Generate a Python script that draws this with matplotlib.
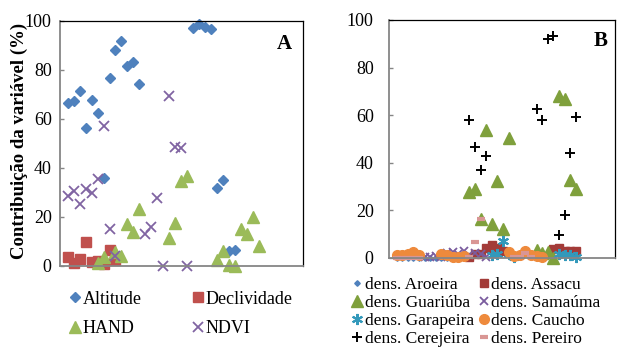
import numpy as np
import matplotlib
matplotlib.use("Agg")
import matplotlib.pyplot as plt

plt.rcParams['font.family'] = ['Liberation Serif', 'DejaVu Serif']

W, H = 623, 347

# ---- Panel A data (x = position index along the unlabelled x axis) ----
alt_x = [0, 1, 2, 3, 4, 5, 6, 7, 8, 9, 10, 11, 12, 21, 22, 23, 24, 25, 26, 27, 28]
alt_y = [66.5, 67.2, 71.4, 56.3, 67.6, 62.4, 35.9, 76.5, 87.9, 91.6, 81.6, 83.0,
         74.0, 97.0, 98.6, 97.6, 96.5, 31.6, 35.0, 5.8, 6.3]

decl_x = [0, 1, 2, 3, 4, 5, 6, 7, 8]
decl_y = [3.6, 0.9, 2.8, 9.8, 1.6, 1.8, 0.8, 6.3, 2.2]

hand_x = [5, 6, 8, 9, 10, 11, 12, 17, 18, 19, 20, 25, 26, 27, 28, 29, 30, 31, 32]
hand_y = [0.9, 3.5, 5.5, 4.0, 16.8, 13.8, 23.0, 11.2, 17.2, 34.5, 36.5, 2.3, 5.8,
          0.3, 0.0, 14.8, 12.9, 19.8, 7.8]

ndvi_x = [0, 1, 2, 3, 4, 5, 6, 7, 8, 13, 14, 15, 16, 17, 18, 19, 20]
ndvi_y = [28.6, 30.6, 25.2, 31.2, 29.5, 35.5, 57.1, 15.0, 3.9, 12.8, 15.9, 27.5,
          0.0, 69.3, 48.6, 47.9, 0.0]

# ---- Panel B data ----
aro_x = [0, 1, 2, 3, 4, 5, 6, 7, 8, 9, 10, 11, 12]
aro_y = [0.0, 0.0, 0.0, 0.0, 0.0, 0.0, 0.0, 0.0, 0.0, 0.0, 0.0, 0.0, 0.0]

ass_x = [13, 14, 15, 16, 17, 18, 19, 28, 29, 30, 31, 32]
ass_y = [0.5, 1.5, 1.5, 4.0, 5.2, 4.2, 3.0, 3.8, 4.0, 3.0, 3.0, 3.0]

gua_x = [13, 14, 15, 16, 17, 18, 19, 20, 25, 26, 27, 28, 29, 30, 31, 32]
gua_y = [27.6, 28.9, 16.4, 53.6, 14.3, 32.2, 12.2, 50.4, 3.2, 2.0, 2.5, 0.0,
         68.0, 66.8, 32.8, 29.1]

sam_x = [5, 6, 7, 8, 9, 10, 11, 12, 13, 14, 15, 16]
sam_y = [0.5, 0.5, 0.8, 0.3, 2.0, 2.5, 1.5, 2.8, 1.0, 2.0, 1.5, 0.5]

gar_x = [17, 18, 19, 20, 21, 29, 30, 31, 32]
gar_y = [1.0, 1.5, 7.0, 1.5, 0.5, 1.5, 1.0, 1.2, 0.5]

cau_x = [0, 1, 2, 3, 4, 8, 9, 10, 11, 12, 20, 21, 22, 23, 24, 25, 26]
cau_y = [1.0, 1.0, 1.5, 2.6, 1.0, 1.5, 1.0, 0.5, 0.5, 0.8, 2.5, 0.8, 1.0, 2.8,
         1.0, 0.8, 0.5]

cer_x = [13, 14, 15, 16, 25, 26, 27, 28, 29, 30, 31, 32]
cer_y = [57.8, 46.5, 37.1, 42.6, 62.6, 57.8, 92.0, 93.3, 9.6, 18.0, 44.2, 59.4]

per_x = [0, 1, 2, 3, 4, 13, 14, 15, 21, 22, 23, 24]
per_y = [0.0, 0.0, 0.0, 0.0, 0.0, 0.5, 6.8, 16.4, 0.5, 0.5, 2.0, 0.5]

yticks = [0, 20, 40, 60, 80, 100]

fig = plt.figure(figsize=(W / 100, H / 100), dpi=100)
axA = fig.add_axes([60 / W, 1 - 265.6 / H, 243 / W, 244.9 / H])
axB = fig.add_axes([389 / W, 1 - 257.7 / H, 226 / W, 237.7 / H])


def style_axes(ax, xlim, pad):
    ax.set_xlim(*xlim)
    ax.set_ylim(0, 100)
    ax.set_yticks(yticks)
    ax.set_xticks([])
    ax.tick_params(axis='y', direction='in', length=3, width=1, color='#868686',
                   labelsize=13, pad=pad)
    for s in ('left', 'bottom'):
        ax.spines[s].set_color('#868686')
        ax.spines[s].set_linewidth(1.3)
    for s in ('top', 'right'):
        ax.spines[s].set_color('black')
        ax.spines[s].set_linewidth(0.9)


style_axes(axA, (-1.29, 39.4), 6)
style_axes(axB, (-1.34, 39.0), 11)

kw = dict(linestyle='none', clip_on=False)

# panel A
hA_alt, = axA.plot(alt_x, alt_y, marker='D', ms=5, color='#4F81BD', mec='#4F81BD', label='Altitude', **kw)
hA_dec, = axA.plot(decl_x, decl_y, marker='s', ms=6.5, color='#C0504D', mec='#C0504D', label='Declividade', **kw)
hA_han, = axA.plot(hand_x, hand_y, marker='^', ms=9, color='#9BBB59', mec='#9BBB59', label='HAND', **kw)
hA_ndv, = axA.plot(ndvi_x, ndvi_y, marker='x', ms=6.5, mew=1.3, color='#8064A2', label='NDVI', **kw)

# panel B
hB_aro, = axB.plot(aro_x, aro_y, marker='D', ms=2.8, color='#4F81BD', mec='#4F81BD', label='dens. Aroeira', **kw)
hB_ass, = axB.plot(ass_x, ass_y, marker='s', ms=6, color='#A33B38', mec='#A33B38', label='dens. Assacu', **kw)
hB_gua, = axB.plot(gua_x, gua_y, marker='^', ms=9, color='#7FA03C', mec='#7FA03C', label='dens. Guariúba', **kw)
hB_sam, = axB.plot(sam_x, sam_y, marker='x', ms=6, mew=1.3, color='#7A5C9E', label='dens. Samaúma', **kw)
hB_gar, = axB.plot(gar_x, gar_y, marker=(6, 2, 0), ms=8, mew=1.5, color='#3399BB', label='dens. Garapeira', **kw)
hB_cau, = axB.plot(cau_x, cau_y, marker='o', ms=7, color='#EE8A3C', mec='#EE8A3C', label='dens. Caucho', **kw)
hB_cer, = axB.plot(cer_x, cer_y, marker='+', ms=7, mew=1.4, color='black', label='dens. Cerejeira', **kw)
hB_per, = axB.plot(per_x, per_y, marker='_', ms=6, mew=3, color='#D99694', label='dens. Pereiro', **kw)

# panel letters
fig.text(284.5 / W, 1 - 44 / H, 'A', fontsize=15, fontweight='bold', ha='center', va='center')
fig.text(600.5 / W, 1 - 41 / H, 'B', fontsize=15, fontweight='bold', ha='center', va='center')

# y label
fig.text(19 / W, 1 - 141 / H, 'Contribuição da variável (%)', rotation=90,
         fontsize=13.5, fontweight='bold', ha='center', va='center')

# legends (Excel fills rows first, matplotlib fills columns first)
legA = axA.legend(handles=[hA_alt, hA_han, hA_dec, hA_ndv], ncol=2,
                  loc='upper left', bbox_to_anchor=(70.7 / W, 1 - 290.5 / H),
                  bbox_transform=fig.transFigure, frameon=False, fontsize=13,
                  handlelength=0.5, handletextpad=0.15, columnspacing=2.9,
                  labelspacing=0.7, borderpad=0, borderaxespad=0, numpoints=1)

legB = axB.legend(handles=[hB_aro, hB_gua, hB_gar, hB_cer, hB_ass, hB_sam, hB_cau, hB_per],
                  ncol=2, loc='upper left', bbox_to_anchor=(352.8 / W, 1 - 277 / H),
                  bbox_transform=fig.transFigure, frameon=False, fontsize=12.5,
                  handlelength=0.5, handletextpad=0.2, columnspacing=0.3,
                  labelspacing=0.11, borderpad=0, borderaxespad=0, numpoints=1)

fig.savefig('out.png', dpi=100)
